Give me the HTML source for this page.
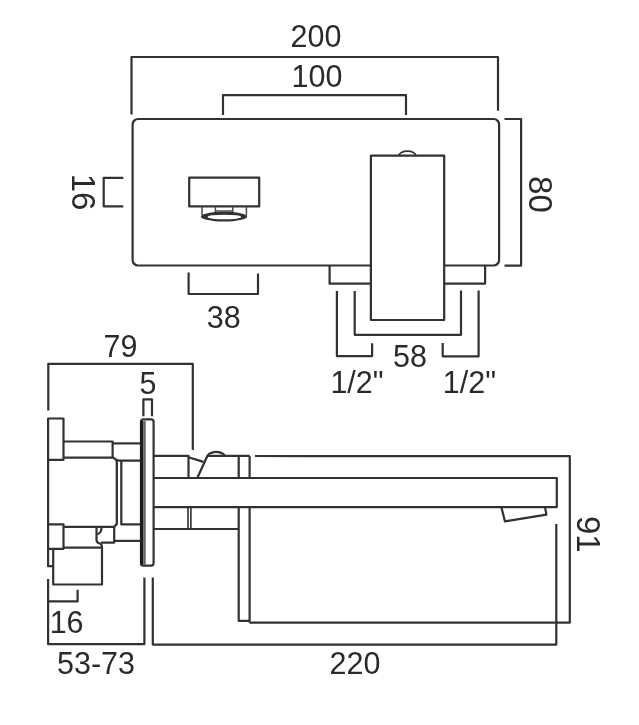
<!DOCTYPE html>
<html><head><meta charset="utf-8"><title>Wall mounted basin mixer - dimensions</title>
<style>
html,body{margin:0;padding:0;background:#fff;}
body{width:639px;height:725px;overflow:hidden;font-family:"Liberation Sans",sans-serif;}
svg{display:block}
</style></head>
<body>
<svg width="639" height="725" viewBox="0 0 639 725" role="img" aria-label="Dimension drawing: 200, 100, 80, 16, 38, 58, 1/2 inch, 79, 5, 16, 53-73, 220, 91">
<defs><filter id="soft" x="-2%" y="-2%" width="104%" height="104%"><feGaussianBlur stdDeviation="0.55"/></filter></defs>
<rect x="0" y="0" width="639" height="725" fill="#fff"/>
<g filter="url(#soft)">
<g fill="none" stroke="#303030" stroke-width="2.2" stroke-linecap="butt" stroke-linejoin="round">
<polyline points="131.5,114.5 131.5,57 498,57 498,110.8"/>
<polyline points="223,115 223,95.2 406,95.2 406,115"/>
<rect x="132.6" y="119" width="366.5" height="146.5" rx="5.5"/>
<polyline points="123.3,177.8 103.7,177.8 103.7,206.3 123.3,206.3"/>
<rect x="189.2" y="177.6" width="70" height="28.8" rx="0"/>
<path d="M202,206.4 V215.5 M246.4,206.4 V215.5 M215.4,206.4 V213.2 M232.7,206.4 V213.2 M215.4,210.9 H232.7" stroke-width="1.5" stroke="#4a4a4a"/>
<path fill-rule="evenodd" fill="#303030" stroke="none" d="M200.8,216.6 a23.2,4.9 0 1 0 46.4,0 a23.2,4.9 0 1 0 -46.4,0 Z M207.6,217.0 a16.8,2.3 0 1 0 33.6,0 a16.8,2.3 0 1 0 -33.6,0 Z"/>
<polyline points="188.6,272.6 188.6,294 258,294 258,273.6"/>
<rect x="370.9" y="155.6" width="73.3" height="164.4" rx="0" fill="#fff"/>
<path d="M399,155.4 A8.4,4.2 0 0 1 415.8,155.4" stroke-width="1.8"/>
<polyline points="329.6,265.5 329.6,283.7 370.9,283.7"/>
<polyline points="444.2,283.6 485.1,283.6 485.1,265.5"/>
<polyline points="354.7,291 354.7,334.8 461,334.8 461,290.5"/>
<polyline points="336.9,291 336.9,356.1 372.1,356.1 372.1,343.3"/>
<polyline points="478.6,290.5 478.6,356.3 442.7,356.3 442.7,342.9"/>
<polyline points="504.5,119 521.1,119 521.1,265.6 504.5,265.6"/>
<polyline points="48.3,410.6 48.3,363.8 192.8,363.8 192.8,450"/>
<polyline points="143.4,416.2 143.4,399.3 152,399.3 152,416.2"/>
<rect x="141" y="419.4" width="12.6" height="146.3" rx="2.5"/>
<rect x="140.2" y="421" width="3.4" height="143.5" fill="#1c1c1c" stroke="none"/>
<polyline points="144.9,421 144.9,564.5" stroke-width="1.3"/>
<rect x="48.1" y="418.5" width="15.4" height="41.3" rx="0"/>
<polyline points="63.5,441.5 112.6,441.5 112.6,457.4"/>
<polyline points="112.6,443.4 140.3,443.4"/>
<path d="M63.5,457.6 H113.2 L116.8,460.2 V524 L114.2,526.8 H63.5" stroke-width="2.3"/>
<polyline points="48.1,459.8 48.1,524.4"/>
<polyline points="116.8,460.4 121.3,460.7 140.3,460.7"/>
<polyline points="121.3,460.7 121.3,524.4 140.3,524.4"/>
<rect x="48.1" y="524.4" width="15.4" height="24.4" rx="0"/>
<polyline points="114.2,526.8 114.2,542.6 101,542.6"/>
<polyline points="114.2,540.9 140.3,540.9"/>
<path d="M96.5,527 V540 Q96.5,543 100,543.5 Q102,544.5 102,547"/>
<path d="M97,534 Q101,534 101.5,528"/>
<polyline points="63.5,547.7 102,547.7 102,584.5 53.2,584.5 53.2,548.8"/>
<polyline points="48.1,548.8 48.1,566.2 53.2,566.2"/>
<polyline points="48.1,578.9 48.1,644.2 144.4,644.2 144.4,577.6"/>
<polyline points="48.1,601.4 77.6,601.4 77.6,589.8"/>
<polyline points="152.8,577.6 152.8,644.6 556.3,644.6 556.3,523.9"/>
<polyline points="153.3,455.8 188.5,455.8 188.5,478"/>
<polyline points="153.3,478 556.8,478 556.8,507.1 153.3,507.1"/>
<polyline points="153.3,529 238.7,529"/>
<polyline points="188,507 188,529" stroke-width="1.6"/>
<polyline points="190.9,507 190.9,529" stroke-width="1.6"/>
<polyline points="188.5,457.2 203.5,461.9"/>
<path d="M197.3,478 L207.6,455.5 Q209,453.2 212,452.6 Q216,451.3 220.5,452.6 Q223.5,453.6 224.7,455.5"/>
<polyline points="207.8,455.9 249.6,455.9"/>
<polyline points="238.7,455.9 238.7,478"/>
<polyline points="249.6,455.9 249.6,478"/>
<polyline points="255,456 569.8,456.2 569.8,622.7 249.6,622.7"/>
<polyline points="238.7,507 238.7,620.8 249.6,620.8"/>
<polyline points="249.6,507 249.6,622.6"/>
<polyline points="501.3,507 505,521.4 546.4,514.6 545.1,507.6"/>
</g>
<g font-family="'Liberation Sans', sans-serif" font-size="30.5" fill="#2c2c2c" text-anchor="middle">
<text x="316" y="46.8">200</text>
<text x="317" y="87.4">100</text>
<text x="223.8" y="327.8">38</text>
<text x="410" y="367.1">58</text>
<text x="357" y="392.7">1/2"</text>
<text x="469.4" y="392.7">1/2"</text>
<text x="120.4" y="356.7">79</text>
<text x="148" y="393.7">5</text>
<text x="66.6" y="633.1">16</text>
<text x="96" y="674.3">53-73</text>
<text x="355" y="673.9">220</text>
<text transform="rotate(90)" x="192" y="-71.8" font-size="33">16</text>
<text transform="rotate(90)" x="194.4" y="-528.9" font-size="33">80</text>
<text transform="rotate(90)" x="534.3" y="-576.9" font-size="33">91</text>
</g>
</g>
</svg>
</body></html>
